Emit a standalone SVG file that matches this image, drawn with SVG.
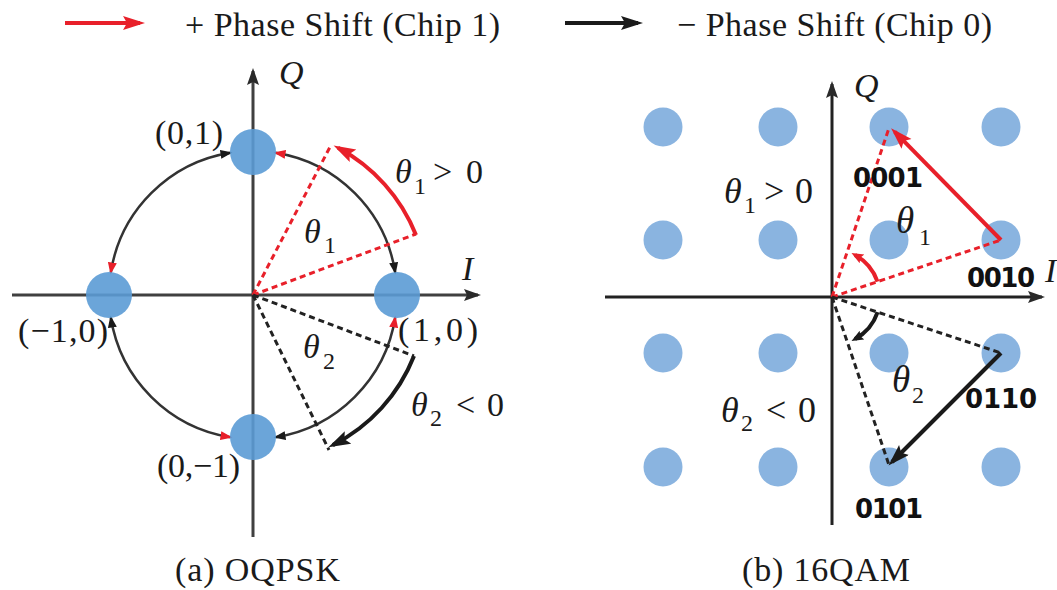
<svg xmlns="http://www.w3.org/2000/svg" width="1057" height="590" viewBox="0 0 1057 590">
<style>
.serif{font-family:"Liberation Serif","Times New Roman",serif;font-size:34px;fill:#1a1a1a}
.it{font-style:italic}
.sub{font-size:24px;font-style:normal}
.bin{font-family:"DejaVu Sans","Open Sans",sans-serif;font-weight:bold;font-size:26px;fill:#111}
.axisL{stroke:#404040;stroke-width:3;fill:none}
.axisR{stroke:#222;stroke-width:3;fill:none}
.ring{stroke:#333;stroke-width:2.5;fill:none}
.dR{stroke:#e8202a;stroke-width:3;stroke-dasharray:6 4;fill:none}
.dK{stroke:#222;stroke-width:3;stroke-dasharray:6 4;fill:none}
.sR{stroke:#e8202a;stroke-width:4;fill:none}
.sK{stroke:#1a1a1a;stroke-width:4;fill:none}
.cA{fill:#5b9bd5;fill-opacity:0.9}
.cB{fill:#8ab4e0}
</style>
<defs>
<marker id="ax" markerUnits="userSpaceOnUse" markerWidth="18" markerHeight="14" refX="14" refY="6" orient="auto"><path d="M0,0 L17,6 L0,12 L3,6 z" fill="#2a2a2a"/></marker>
<marker id="bigR" markerUnits="userSpaceOnUse" markerWidth="24" markerHeight="16" refX="17" refY="7" orient="auto"><path d="M0,0 L22,7 L0,14 L4,7 z" fill="#e8202a"/></marker>
<marker id="bigK" markerUnits="userSpaceOnUse" markerWidth="24" markerHeight="16" refX="17" refY="7" orient="auto"><path d="M0,0 L22,7 L0,14 L4,7 z" fill="#1a1a1a"/></marker>
<marker id="smR" markerUnits="userSpaceOnUse" markerWidth="14" markerHeight="10" refX="10" refY="4.5" orient="auto-start-reverse"><path d="M0,0 L12,4.5 L0,9 z" fill="#e8202a"/></marker>
<marker id="smK" markerUnits="userSpaceOnUse" markerWidth="14" markerHeight="10" refX="10" refY="4.5" orient="auto"><path d="M0,0 L12,4.5 L0,9 z" fill="#1a1a1a"/></marker>
<marker id="tinyR" markerUnits="userSpaceOnUse" markerWidth="14" markerHeight="12" refX="8" refY="5" orient="auto"><path d="M0,0 L12,5 L0,10 L2,5 z" fill="#e8202a"/></marker>
<marker id="tinyK" markerUnits="userSpaceOnUse" markerWidth="14" markerHeight="12" refX="8" refY="5" orient="auto"><path d="M0,0 L12,5 L0,10 L2,5 z" fill="#1a1a1a"/></marker>
</defs>
<rect width="1057" height="590" fill="#fff"/>

<g id="legend">
<line x1="65" y1="23" x2="140" y2="23" class="sR" stroke-width="4.5" marker-end="url(#bigR)"/>
<text class="serif" x="185" y="36" textLength="315">+ Phase Shift (Chip 1)</text>
<line x1="565" y1="23" x2="638" y2="23" class="sK" stroke-width="4.5" marker-end="url(#bigK)"/>
<text class="serif" x="677" y="36" textLength="315">− Phase Shift (Chip 0)</text>
</g>

<!-- Panel (a) OQPSK -->
<g id="axes-a">
<line x1="253" y1="537" x2="253" y2="71" class="axisL" marker-end="url(#ax)"/>
<line x1="12" y1="295" x2="478" y2="295" class="axisL" marker-end="url(#ax)"/>
<text class="serif it" x="279" y="84">Q</text>
<text class="serif it" x="462" y="280">I</text>
</g>
<g id="connectors-a">
<path d="M275.5,152.8 A144,144 0 0 1 395.2,272.5" class="ring" marker-start="url(#smR)" marker-end="url(#smK)"/>
<path d="M395.2,317.5 A144,144 0 0 1 275.5,437.2" class="ring" marker-start="url(#smR)" marker-end="url(#smK)"/>
<path d="M230.5,437.2 A144,144 0 0 1 110.8,317.5" class="ring" marker-start="url(#smR)" marker-end="url(#smK)"/>
<path d="M110.8,272.5 A144,144 0 0 1 230.5,152.8" class="ring" marker-start="url(#smR)" marker-end="url(#smK)"/>
<path d="M253,295 L330,147 M253,295 L416,234" class="dR"/>
<path d="M253,295 L329,450 M253,295 L414,356" class="dK"/>
<path d="M416,235 A170,170 0 0 0 338,147.8" class="sR" stroke-width="3.5" marker-end="url(#bigR)"/>
<path d="M414,356 A170,170 0 0 1 332.8,445.1" class="sK" stroke-width="3.5" marker-end="url(#bigK)"/>
</g>
<g id="node-a01"><circle cx="253" cy="152" r="23" class="cA"/><text class="serif" x="155" y="144" textLength="68">(0,1)</text></g>
<g id="node-a10"><circle cx="397" cy="295" r="23" class="cA"/><text class="serif" x="398" y="341" textLength="80">(1,0)</text></g>
<g id="node-am10"><circle cx="109" cy="295" r="23" class="cA"/><text class="serif" x="18" y="342" textLength="90">(−1,0)</text></g>
<g id="node-a0m1"><circle cx="253" cy="437" r="23" class="cA"/><text class="serif" x="157" y="477" textLength="83">(0,−1)</text></g>
<g id="labels-a">
<text class="serif"><tspan class="it" x="395" y="183">θ</tspan><tspan class="sub" x="414" y="194">1</tspan><tspan x="433" y="183">&gt;</tspan><tspan x="466" y="183">0</tspan></text>
<text class="serif"><tspan class="it" x="304" y="243">θ</tspan><tspan class="sub" x="324" y="253">1</tspan></text>
<text class="serif"><tspan class="it" x="303" y="358">θ</tspan><tspan class="sub" x="323" y="369">2</tspan></text>
<text class="serif"><tspan class="it" x="411" y="416">θ</tspan><tspan class="sub" x="430" y="426">2</tspan><tspan x="456" y="416">&lt;</tspan><tspan x="487" y="416">0</tspan></text>
<text class="serif" x="175" y="581" textLength="165">(a) OQPSK</text>
</g>

<!-- Panel (b) 16QAM -->
<g id="dots-b">
<circle cx="663" cy="127" r="19.5" class="cB"/><circle cx="778" cy="127" r="19.5" class="cB"/><circle cx="889" cy="127" r="19.5" class="cB"/><circle cx="1001" cy="127" r="19.5" class="cB"/>
<circle cx="663" cy="240" r="19.5" class="cB"/><circle cx="778" cy="240" r="19.5" class="cB"/><circle cx="889" cy="240" r="19.5" class="cB"/><circle cx="1001" cy="240" r="19.5" class="cB"/>
<circle cx="663" cy="353" r="19.5" class="cB"/><circle cx="778" cy="353" r="19.5" class="cB"/><circle cx="889" cy="353" r="19.5" class="cB"/><circle cx="1001" cy="353" r="19.5" class="cB"/>
<circle cx="663" cy="467" r="19.5" class="cB"/><circle cx="778" cy="467" r="19.5" class="cB"/><circle cx="889" cy="467" r="19.5" class="cB"/><circle cx="1001" cy="467" r="19.5" class="cB"/>
</g>
<g id="axes-b">
<line x1="832" y1="525" x2="832" y2="84" class="axisR" marker-end="url(#ax)"/>
<line x1="605" y1="297" x2="1042" y2="297" class="axisR" marker-end="url(#ax)"/>
<text class="serif it" x="854" y="97">Q</text>
<text class="serif it" x="1045" y="282">I</text>
</g>
<g id="connectors-b">
<path d="M832,297 L889,128 M832,297 L1001,240" class="dR"/>
<path d="M832,297 L1001,353 M832,297 L889,465" class="dK"/>
<path d="M1001,240 L894.6,131.7" class="sR" stroke-width="3.5" marker-end="url(#bigR)"/>
<path d="M1001,353 L892,462" class="sK" stroke-width="3.5" marker-end="url(#bigK)"/>
<path d="M877.5,281.7 A48,48 0 0 0 855,255" class="sR" stroke-width="2.5" marker-end="url(#tinyR)"/>
<path d="M877.6,312.1 A48,48 0 0 1 855,339" class="sK" stroke-width="2.5" marker-end="url(#tinyK)"/>
</g>
<g id="node-0001"><text class="bin" x="853" y="187" textLength="70">0001</text></g>
<g id="node-0010"><text class="bin" x="967" y="287" textLength="68">0010</text></g>
<g id="node-0110"><text class="bin" x="965" y="408" textLength="72">0110</text></g>
<g id="node-0101"><text class="bin" x="855" y="518" textLength="68">0101</text></g>
<g id="labels-b">
<text class="serif" font-size="36"><tspan class="it" x="724" y="203" font-size="36">θ</tspan><tspan class="sub" x="744" y="213">1</tspan><tspan x="764" y="203" font-size="36">&gt;</tspan><tspan x="795" y="203" font-size="36">0</tspan></text>
<text class="serif"><tspan class="it" x="896" y="233" font-size="37">θ</tspan><tspan class="sub" x="919" y="245" font-size="26">1</tspan></text>
<text class="serif"><tspan class="it" x="892" y="392" font-size="37">θ</tspan><tspan class="sub" x="912" y="403" font-size="26">2</tspan></text>
<text class="serif"><tspan class="it" x="721" y="422" font-size="36">θ</tspan><tspan class="sub" x="741" y="431">2</tspan><tspan x="766" y="422" font-size="36">&lt;</tspan><tspan x="798" y="422" font-size="36">0</tspan></text>
<text class="serif" x="742" y="581" textLength="168">(b) 16QAM</text>
</g>
</svg>
